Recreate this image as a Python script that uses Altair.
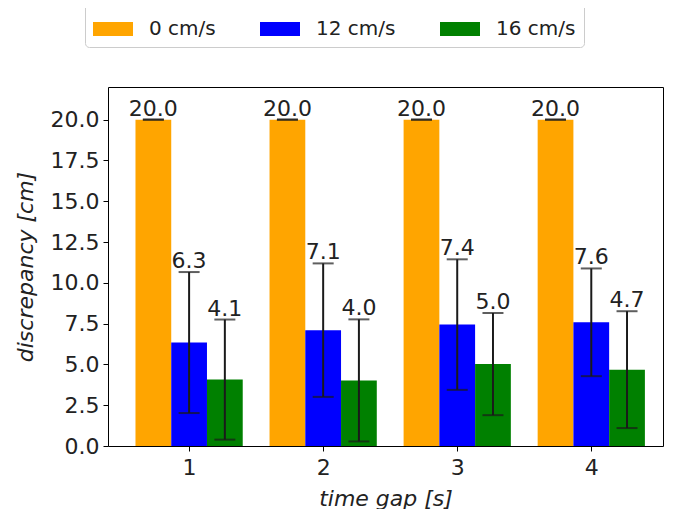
import altair as alt
import pandas as pd

# ---- data ----
groups = [1, 2, 3, 4]
series = ["0 cm/s", "12 cm/s", "16 cm/s"]
colors = ["#FFA500", "#0000FF", "#008000"]
mean_0 = [20.0, 20.0, 20.0, 20.0]
err_0 = [0.0, 0.0, 0.0, 0.0]
mean_12 = [6.34, 7.10, 7.44, 7.58]
err_12 = [4.32, 4.09, 4.00, 3.30]
mean_16 = [4.07, 4.02, 5.02, 4.68]
err_16 = [3.68, 3.74, 3.13, 3.58]
y_ticks = [0.0, 2.5, 5.0, 7.5, 10.0, 12.5, 15.0, 17.5, 20.0]

BAR_W = 0.8 / 3
means = [mean_0, mean_12, mean_16]
errs = [err_0, err_12, err_16]
rows = []
for si, name in enumerate(series):
    for gi, g in enumerate(groups):
        c = g + (si - 1) * BAR_W
        m = means[si][gi]
        e = errs[si][gi]
        rows.append(dict(series=name, group=g, xc=c, x0=c - BAR_W / 2,
                         x1=c + BAR_W / 2, mean=m, base=0.0,
                         lo=m - e, hi=m + e))
df = pd.DataFrame(rows)

FONT = "DejaVu Sans"
xscale = alt.Scale(domain=[0.395, 4.535], nice=False, zero=False)
yscale = alt.Scale(domain=[0, 22], nice=False)

xaxis = alt.Axis(values=groups, format="d", title="time gap [s]",
                 titleFontStyle="italic", titleX=277.5, titleY=59,
                 titleBaseline="alphabetic", labelPadding=6)
yaxis = alt.Axis(values=y_ticks, format=".1f", title="discrepancy [cm]",
                 titleFontStyle="italic", titleX=-76, titleY=179.5,
                 titleBaseline="alphabetic", titleAngle=-90, labelPadding=4)

base = alt.Chart(df)

bars = base.mark_bar().encode(
    x=alt.X("x0:Q", scale=xscale, axis=xaxis, title="time gap [s]"),
    x2="x1:Q",
    y=alt.Y("mean:Q", scale=yscale, axis=yaxis, title="discrepancy [cm]"),
    y2="base:Q",
    color=alt.Color("series:N",
                    scale=alt.Scale(domain=series, range=colors),
                    sort=series,
                    title=None,
                    legend=alt.Legend(orient="none", legendX=-23, legendY=-86,
                                      direction="horizontal", columns=3,
                                      symbolType="M-1,-0.35L1,-0.35L1,0.35L-1,0.35Z",
                                      symbolSize=1600, symbolStrokeWidth=0,
                                      labelFont=FONT, labelFontSize=20,
                                      labelColor="#222222",
                                      columnPadding=44, labelOffset=16,
                                      padding=8, strokeColor="#cccccc",
                                      cornerRadius=4, fillColor="white")),
)

rules = base.mark_rule(color="#1a1a1a", strokeWidth=2).encode(
    x=alt.X("xc:Q", scale=xscale, axis=xaxis, title="time gap [s]"),
    y=alt.Y("lo:Q", scale=yscale, axis=yaxis, title="discrepancy [cm]"),
    y2="hi:Q",
)

caps_hi = base.mark_tick(orient="horizontal", size=21, thickness=2,
                         color="#1a1a1a").encode(
    x=alt.X("xc:Q", scale=xscale, axis=xaxis, title="time gap [s]"),
    y=alt.Y("hi:Q", scale=yscale, axis=yaxis, title="discrepancy [cm]"),
)
caps_lo = base.mark_tick(orient="horizontal", size=21, thickness=2,
                         color="#1a1a1a").encode(
    x=alt.X("xc:Q", scale=xscale, axis=xaxis, title="time gap [s]"),
    y=alt.Y("lo:Q", scale=yscale, axis=yaxis, title="discrepancy [cm]"),
)

labels = base.mark_text(font=FONT, fontSize=22, color="#222222",
                        baseline="alphabetic", align="center", dy=-4).encode(
    x=alt.X("xc:Q", scale=xscale, axis=xaxis, title="time gap [s]"),
    y=alt.Y("hi:Q", scale=yscale, axis=yaxis, title="discrepancy [cm]"),
    text=alt.Text("mean:Q", format=".1f"),
)

chart = alt.layer(bars, rules, caps_hi, caps_lo, labels).properties(
    width=555, height=359,
    autosize=alt.AutoSizeParams(type="none"),
    padding={"left": 100, "top": 79, "right": 2, "bottom": 63},
).configure_view(
    stroke="#000000", strokeWidth=1
).configure_axis(
    grid=False, domain=False,
    labelFont=FONT, labelFontSize=22, labelColor="#222222",
    titleFont=FONT, titleFontSize=22, titleColor="#222222",
    titleFontWeight="normal",
    tickColor="#000000", tickSize=5, tickWidth=1,
)

chart.save("out.html", embed_options={"renderer": "svg", "actions": False})
